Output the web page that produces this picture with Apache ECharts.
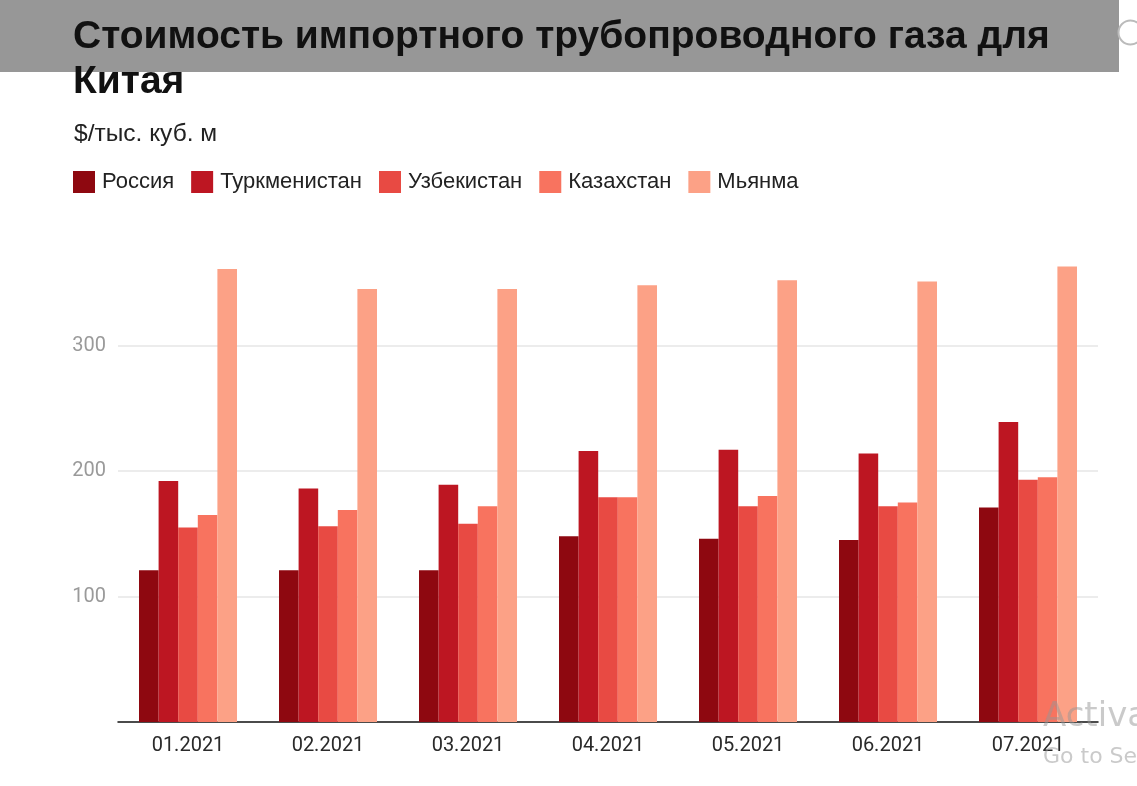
<!DOCTYPE html>
<html><head><meta charset="utf-8">
<script src="https://cdn.jsdelivr.net/npm/echarts@6/dist/echarts.min.js"></script>
<style>html,body{margin:0;padding:0;background:#fff}#c{width:1137px;height:786px}</style>
</head><body><div id="c"></div>
<script>
const categories = ['01.2021','02.2021','03.2021','04.2021','05.2021','06.2021','07.2021'];
const seriesNames = ['Россия','Туркменистан','Узбекистан','Казахстан','Мьянма'];
const russia       = [121, 121, 121, 148, 146, 145, 171];
const turkmenistan = [192, 186, 189, 216, 217, 214, 239];
const uzbekistan   = [155, 156, 158, 179, 172, 172, 193];
const kazakhstan   = [165, 169, 172, 179, 180, 175, 195];
const myanmar      = [361, 345, 345, 348, 352, 351, 363];
const colors = ['#8e0810','#bd1622','#e84a43','#f8735f','#fca186'];
const values = [russia, turkmenistan, uzbekistan, kazakhstan, myanmar];

const chart = echarts.init(document.getElementById('c'));
chart.setOption({
  animation: false,
  backgroundColor: '#fff',
  graphic: [
    {type:'rect', left:0, top:0, z:0, shape:{width:1119, height:72}, style:{fill:'#979797'}},
    {type:'circle', left:1116, top:18, z:0, shape:{r:12}, style:{fill:'none', stroke:'#bbbbbb', lineWidth:2}},
    {type:'text', left:1043, top:700, z:100, style:{text:'Activate Windows', fill:'rgba(150,150,150,0.5)', font:'34px "DejaVu Sans"'}},
    {type:'text', left:1043, top:746, z:100, style:{text:'Go to Settings to activate Windows.', fill:'rgba(150,150,150,0.5)', font:'22px "DejaVu Sans"'}}
  ],
  title: [
    {text:'Стоимость импортного трубопроводного газа для\nКитая', left:68, top:10, z:10,
     textStyle:{fontFamily:'Liberation Sans', fontWeight:'bold', fontSize:39, lineHeight:45, color:'#111'}},
    {text:'$/тыс. куб. м', left:69, top:117, z:10,
     textStyle:{fontFamily:'Liberation Sans', fontWeight:'normal', fontSize:24.5, color:'#222'}}
  ],
  legend: {
    left: 68, top: 166, itemWidth: 22, itemHeight: 22, itemGap: 17,
    icon: 'rect',
    textStyle: {fontFamily:'Liberation Sans', fontSize:22, color:'#222', padding:[0,0,0,2]},
    data: seriesNames
  },
  grid: {left:118, right:39, top:220, bottom:64, containLabel:false},
  xAxis: {
    type:'category', data: categories,
    axisLine:{show:true, lineStyle:{color:'#111', width:1.5}},
    axisTick:{show:false},
    axisLabel:{fontFamily:'Roboto', fontSize:20, color:'#2a2a2a', margin:14}
  },
  yAxis: {
    type:'value', min:0, max:400, interval:100,
    axisLine:{show:false}, axisTick:{show:false},
    axisLabel:{fontFamily:'Roboto', fontSize:20, color:'#9a9a9a', margin:12, showMinLabel:false, showMaxLabel:false},
    splitLine:{show:true, showMinLine:false, showMaxLine:false, lineStyle:{color:'#e6e6e6', width:1.5}}
  },
  series: seriesNames.map((n,i)=>({
    name:n, type:'bar', data: values[i], barGap:'0%', barCategoryGap:'30%',
    itemStyle:{color: colors[i]}
  }))
});
</script></body></html>
